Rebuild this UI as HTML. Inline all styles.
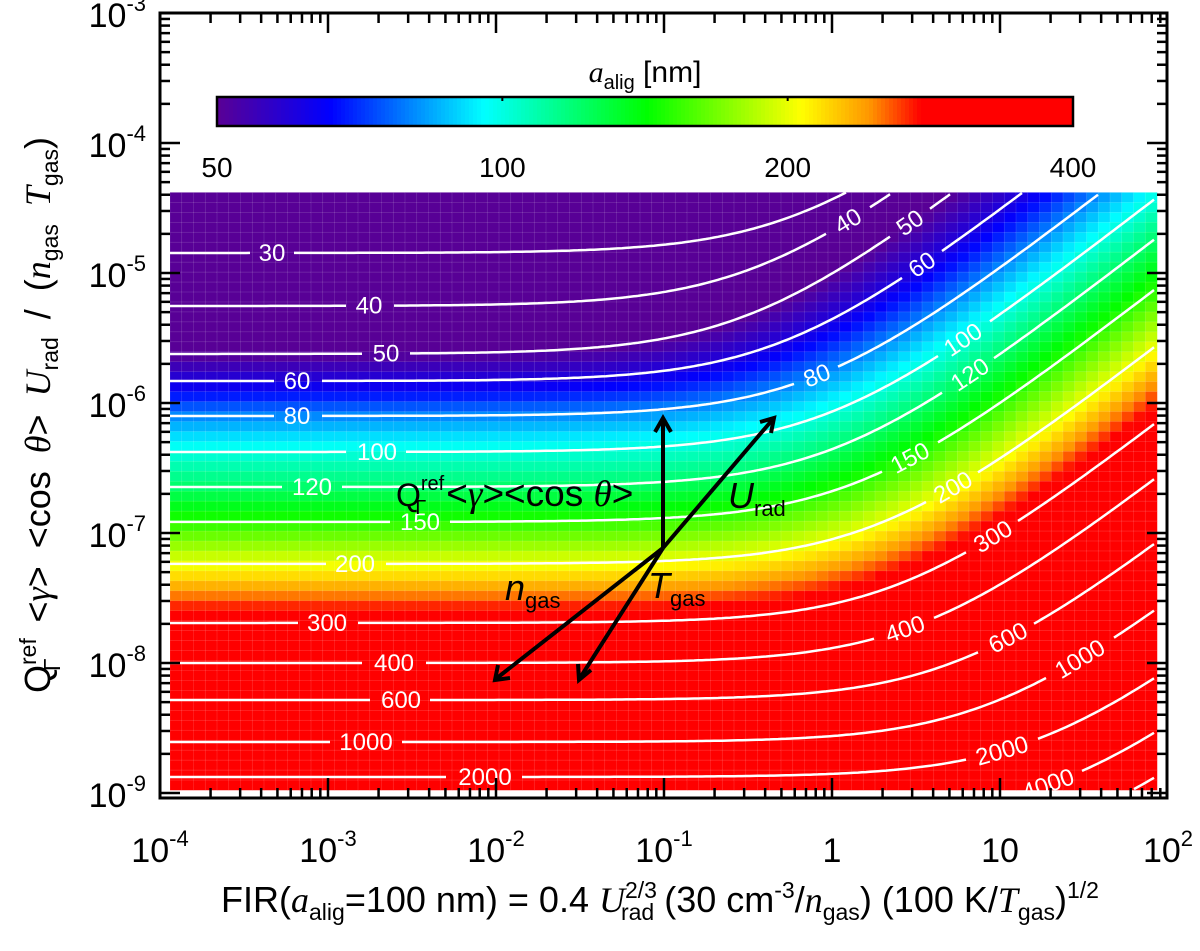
<!DOCTYPE html>
<html><head><meta charset="utf-8"><style>
body{margin:0;background:#fff}
svg text{font-family:"Liberation Sans",sans-serif}
</style></head><body>
<svg id="chart" width="1200" height="946" viewBox="0 0 1200 946" xmlns="http://www.w3.org/2000/svg">
<g id="heat"></g>
<g id="contours"></g>
<g id="clabels"></g>
<g id="axes"></g>
<g id="cbar"></g>
<g id="arrows" stroke="#000" stroke-width="4" fill="none">
  <line x1="663" y1="548" x2="663" y2="420"/>
  <polyline points="655,432 663,418 671,432"/>
  <line x1="663" y1="548" x2="773" y2="419"/>
  <polyline points="760,422 774,418 771,433"/>
  <line x1="663" y1="548" x2="497" y2="678"/>
  <polyline points="498,665 495,680 510,678"/>
  <line x1="663" y1="548" x2="580" y2="678"/>
  <polyline points="578,664 579,680 591,670"/>
</g>
<g fill="#000">
  <text x="396" y="506" font-size="32">Q<tspan font-size="20" dy="-16">ref</tspan><tspan font-size="20" dx="-29" dy="24">Γ</tspan><tspan font-size="37" dx="20" dy="-8">&lt;</tspan><tspan font-size="37" font-style="italic" font-family="Liberation Serif">γ</tspan><tspan font-size="37">&gt;&lt;cos </tspan><tspan font-size="37" font-style="italic" font-family="Liberation Serif">θ</tspan><tspan font-size="37">&gt;</tspan></text>
  <text x="728" y="508" font-size="36" font-style="italic" font-family="Liberation Serif">U<tspan font-size="22" font-style="normal" font-family="Liberation Sans" dy="8">rad</tspan></text>
  <text x="505" y="600" font-size="36" font-style="italic" font-family="Liberation Serif">n<tspan font-size="22" font-style="normal" font-family="Liberation Sans" dy="8">gas</tspan></text>
  <text x="648" y="598" font-size="36" font-style="italic" font-family="Liberation Serif">T<tspan font-size="22" font-style="normal" font-family="Liberation Sans" dy="8">gas</tspan></text>
</g>
<text x="660" y="912" font-size="36" text-anchor="middle">FIR(<tspan font-style="italic" font-family="Liberation Serif">a</tspan><tspan font-size="23" dy="8">alig</tspan><tspan dy="-8">=100 nm) = 0.4 </tspan><tspan font-style="italic" font-family="Liberation Serif">U</tspan><tspan font-size="23" dy="-14">2/3</tspan><tspan font-size="23" dx="-36" dy="22">rad</tspan><tspan dy="-8"> (30 cm</tspan><tspan font-size="23" dy="-14">-3</tspan><tspan dy="14">/</tspan><tspan font-style="italic" font-family="Liberation Serif">n</tspan><tspan font-size="23" dy="8">gas</tspan><tspan dy="-8">) (100 K/</tspan><tspan font-style="italic" font-family="Liberation Serif">T</tspan><tspan font-size="23" dy="8">gas</tspan><tspan dy="-8">)</tspan><tspan font-size="23" dy="-14">1/2</tspan></text>
<text transform="translate(50,415) rotate(-90)" font-size="36" text-anchor="middle" word-spacing="8">Q<tspan font-size="23" dy="-14">ref</tspan><tspan font-size="23" dx="-33" dy="24">Γ</tspan><tspan dx="18" dy="-10"> &lt;</tspan><tspan font-style="italic" font-family="Liberation Serif">γ</tspan><tspan>&gt; &lt;cos </tspan><tspan font-style="italic" font-family="Liberation Serif">θ</tspan><tspan>&gt; </tspan><tspan font-style="italic" font-family="Liberation Serif">U</tspan><tspan font-size="23" dy="8">rad</tspan><tspan dy="-8"> / (</tspan><tspan font-style="italic" font-family="Liberation Serif">n</tspan><tspan font-size="23" dy="8">gas</tspan><tspan dy="-8"> </tspan><tspan font-style="italic" font-family="Liberation Serif">T</tspan><tspan font-size="23" dy="8">gas</tspan><tspan dy="-8">)</tspan></text>
</svg>
<script>
// ---- data ----
const levels = [30,40,50,60,80,100,120,150,200,300,400,600,1000,2000,4000,8000];
const levelLogQ = [-4.846,-5.254,-5.623,-5.831,-6.10,-6.377,-6.646,-6.915,-7.238,-7.692,-8.0,-8.285,-8.608,-8.877,-9.2,-9.5];
const levelKnee = [-0.2,-0.45,-0.5,-0.3,-0.11,-0.02,0.02,0.14,0.26,0.40,0.52,0.745,0.95,1.24,1.36,1.42];
const xTickExp = [-4,-3,-2,-1,0,1,2];
const yTickExp = [-9,-8,-7,-6,-5,-4,-3];
const cbarTicks = [50,100,200,400];
const cmapPos = [0,0.13,0.31,0.5,0.68,0.76,0.82,1];
const cmapCol = [[88,0,150],[0,0,255],[0,255,255],[0,255,0],[255,255,0],[255,150,0],[255,0,0],[255,0,0]];
const leftLabelLevel = [30,40,50,60,80,100,120,150,200,300,400,600,1000,2000];
const leftLabelX = [272,369,386,297,297,377,312,420,355,327,394,401,366,485];
const rightLabelLevel = [40,50,60,80,100,120,150,200,300,400,600,1000,2000,4000];
const rightLabelX = [848,910,922,817,963,970,910,953,993,905,1008,1080,1002,1048];
const dataTopLogQ = -4.38;
// ---- scales ----
const X0=160,XD=168,Y0=13,YD=130;
const sx=l=>X0+(l+4)*XD, sy=l=>Y0+(-3-l)*YD;
const ixs=p=>(p-X0)/XD-4, iys=p=>-3-(p-Y0)/YD;
const NS='http://www.w3.org/2000/svg';
function mk(t,a,p){const e=document.createElementNS(NS,t);for(const k in a)e.setAttribute(k,a[k]);(p||document.getElementById('chart')).appendChild(e);return e;}
function sp(t){return Math.log10(1+Math.pow(10,t));}
function contourQ(i,lf){return levelLogQ[i]+sp(lf-levelKnee[i]);}
function aAt(lf,lq){
  const q=levels.map((_,i)=>contourQ(i,lf));const la=levels.map(v=>Math.log10(v));
  if(lq>=q[0]){return Math.pow(10,la[0]+(lq-q[0])*(la[1]-la[0])/(q[1]-q[0]));}
  for(let i=0;i<q.length-1;i++){if(lq<=q[i]&&lq>=q[i+1]){const f=(lq-q[i])/(q[i+1]-q[i]);return Math.pow(10,la[i]+f*(la[i+1]-la[i]));}}
  return levels[levels.length-1];
}
function color(a){let f=(Math.log10(a)-Math.log10(50))/(Math.log10(400)-Math.log10(50));f=Math.max(0,Math.min(1,f));
  for(let i=0;i<cmapPos.length-1;i++){if(f<=cmapPos[i+1]){const g=(f-cmapPos[i])/(cmapPos[i+1]-cmapPos[i]);const c=cmapCol[i].map((v,j)=>Math.round(v+g*(cmapCol[i+1][j]-v)));return `rgb(${c})`;}}
  return 'rgb(255,0,0)';}
// heatmap
const heat=document.getElementById('heat');
const xl=170,xr=1157,yt=sy(dataTopLogQ),yb=790,NC=84,NR=60;
const cw=(xr-xl)/NC,ch=(yb-yt)/NR;
for(let i=0;i<NC;i++)for(let j=0;j<NR;j++){
  const cx=xl+(i+0.5)*cw,cy=yt+(j+0.5)*ch;
  const a=aAt(ixs(cx),iys(cy));
  const r=mk('rect',{x:(xl+i*cw).toFixed(2),y:(yt+j*ch).toFixed(2),width:(cw+0.3).toFixed(2),height:(ch+0.3).toFixed(2),fill:color(a),stroke:'rgba(255,255,255,0.18)','stroke-width':0.6},heat);
  
  
}
// label positions
const labels=[];
const cy=(i,px)=>sy(contourQ(i,ixs(px)));
leftLabelLevel.forEach((L,k)=>{const i=levels.indexOf(L);labels.push({L,i,x:leftLabelX[k],y:cy(i,leftLabelX[k]),rot:0});});
rightLabelLevel.forEach((L,k)=>{const i=levels.indexOf(L);const x=rightLabelX[k];const y=cy(i,x);
  const ang=Math.atan2(cy(i,x+5)-cy(i,x-5),10)*180/Math.PI;labels.push({L,i,x,y,rot:ang});});
// contours
const cg=document.getElementById('contours');
levels.forEach((L,i)=>{
  const my=labels.filter(l=>l.i===i);let segs=[],cur=[];
  for(let px=xl;px<=xr;px+=4){const y=cy(i,px);
    const hw=String(L).length*7+8;
    const near=my.some(l=>Math.hypot(px-l.x,y-l.y)<hw);
    if(y>=yt&&y<=yb&&!near)cur.push(px.toFixed(1)+','+y.toFixed(1));else{if(cur.length>1)segs.push(cur);cur=[];}}
  if(cur.length>1)segs.push(cur);
  segs.forEach(s=>{const p=mk('polyline',{points:s.join(' '),fill:'none',stroke:'#fff','stroke-width':2.5},cg);
    
    });
});
const lg=document.getElementById('clabels');
labels.forEach(d=>{if(d.y<yt+8||d.y>yb)return;const t=mk('text',{x:d.x,y:d.y+8,'font-size':24,fill:'#fff','text-anchor':'middle',transform:`rotate(${d.rot.toFixed(1)} ${d.x} ${d.y.toFixed(1)})`},lg);t.textContent=d.L;
  
  });
// axes
const ax=document.getElementById('axes');
const L=160,R=1167,T=13,B=798;
const fr=mk('rect',{x:L,y:T,width:R-L,height:B-T,fill:'none',stroke:'#000','stroke-width':3},ax);


for(let e=-4;e<2;e++)for(let m=1;m<10;m++){const x=sx(e+Math.log10(m));const len=m===1?20:10;
  mk('line',{x1:x,y1:B,x2:x,y2:B-len,stroke:'#000','stroke-width':2.5},ax);mk('line',{x1:x,y1:T,x2:x,y2:T+len,stroke:'#000','stroke-width':2.5},ax);}
for(let e=-10;e<-3;e++)for(let m=1;m<10;m++){const y=sy(e+Math.log10(m));if(y<T||y>B)continue;const len=m===1?20:10;
  mk('line',{x1:L,y1:y,x2:L+len,y2:y,stroke:'#000','stroke-width':2.5},ax);mk('line',{x1:R,y1:y,x2:R-len,y2:y,stroke:'#000','stroke-width':2.5},ax);}
xTickExp.forEach(e=>{const t=mk('text',{x:sx(e),y:862,'font-size':34,'text-anchor':'middle'},ax);
  
  
  if(e<-0.5||e>1.5){t.innerHTML='10<tspan font-size="22" dy="-16">'+e+'</tspan>';}else t.textContent=e===0?'1':'10';});
yTickExp.forEach(e=>{const t=mk('text',{x:146,y:sy(e)+14,'font-size':34,'text-anchor':'end'},ax);
  
  
  t.innerHTML='10<tspan font-size="22" dy="-16">'+e+'</tspan>';});
// colorbar
const cb=document.getElementById('cbar');
const cbl=217,cbr=1073,cbt=97,cbb=126;
for(let i=0;i<214;i++){const f=i/214;const a=Math.pow(10,Math.log10(50)+f*Math.log10(8));
  mk('rect',{x:(cbl+i*(cbr-cbl)/214).toFixed(2),y:cbt,width:((cbr-cbl)/214+0.5).toFixed(2),height:cbb-cbt,fill:color(a)},cb);}
const cbf=mk('rect',{x:cbl,y:cbt,width:cbr-cbl,height:cbb-cbt,fill:'none',stroke:'#000','stroke-width':2.5},cb);


cbarTicks.forEach(v=>{const x=cbl+(Math.log10(v/50)/Math.log10(8))*(cbr-cbl);
  mk('line',{x1:x,y1:cbt,x2:x,y2:cbt+4,stroke:'#000','stroke-width':2},cb);
  const t=mk('text',{x:x,y:177,'font-size':28,'text-anchor':'middle'},cb);t.textContent=v;
  
  });
const ct=mk('text',{x:645,y:82,'font-size':30,'text-anchor':'middle'},cb);
ct.innerHTML='<tspan font-style="italic" font-family="Liberation Serif">a</tspan><tspan font-size="20" dy="7">alig</tspan><tspan dy="-7"> [nm]</tspan>';


</script>
</body></html>
